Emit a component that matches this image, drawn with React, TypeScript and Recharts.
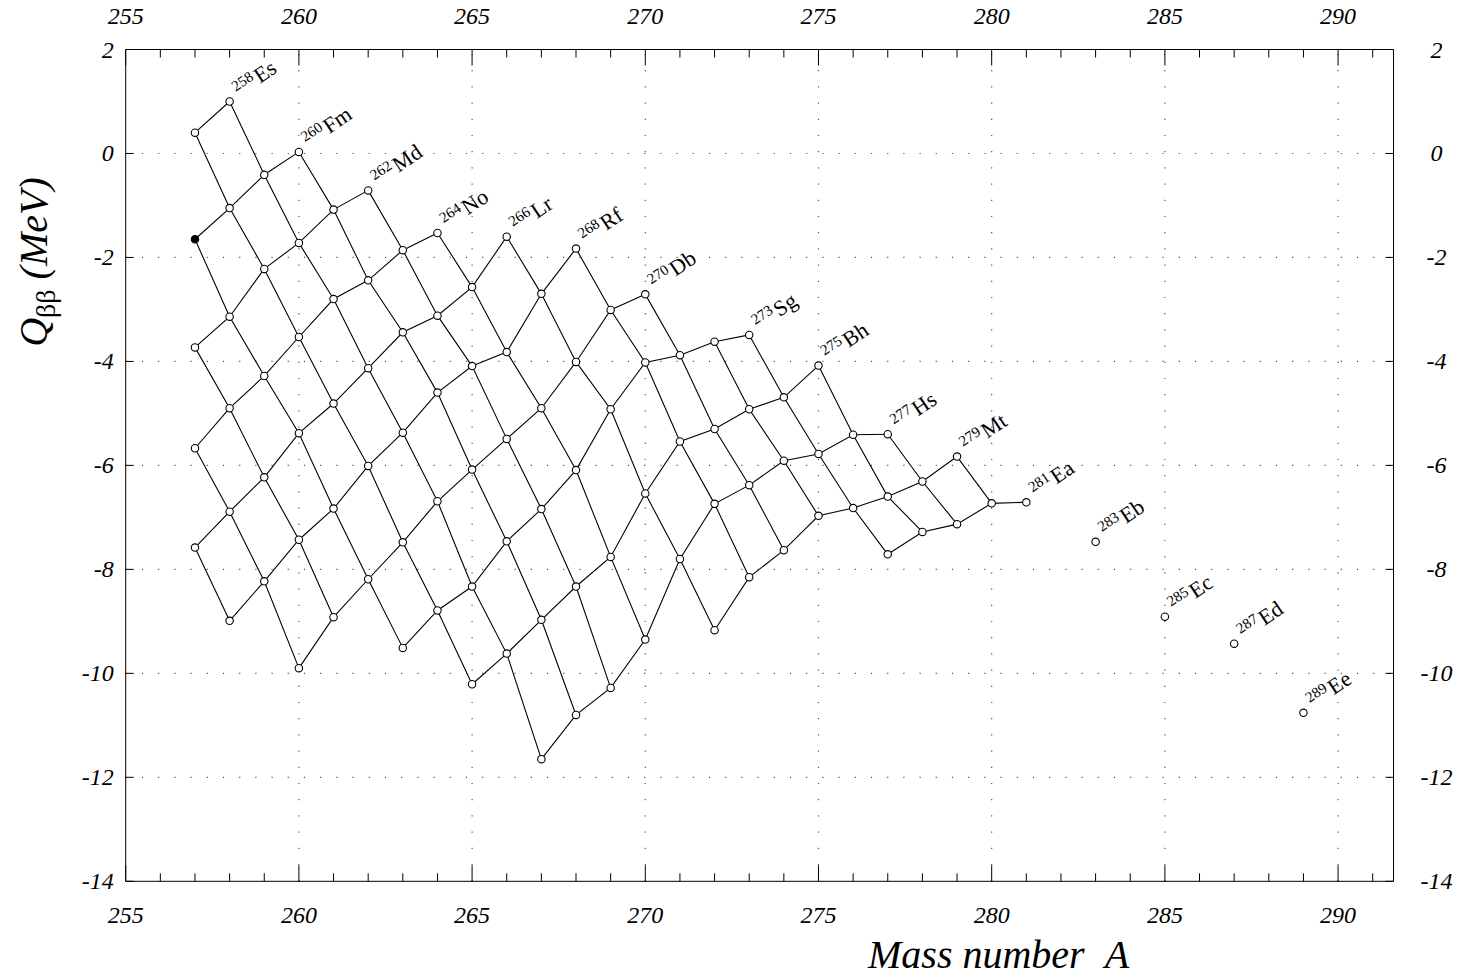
import React from 'react';
import { ComposedChart, Scatter, XAxis, YAxis, ReferenceLine } from 'recharts';

// ---- data ----
const elementSymbols = ['Es', 'Fm', 'Md', 'No', 'Lr', 'Rf', 'Db', 'Sg', 'Bh', 'Hs', 'Mt', 'Ea', 'Eb', 'Ec', 'Ed', 'Ee'];
const protonNumbers = [99, 100, 101, 102, 103, 104, 105, 106, 107, 108, 109, 110, 111, 112, 113, 114];
const firstMassNumbers = [257, 257, 257, 257, 257, 258, 260, 263, 265, 267, 272, 277, 283, 285, 287, 289];

const qEs = [0.40, 1.00];
const qFm = [-1.65, -1.05, -0.41, 0.03];
const qMd = [-3.73, -3.14, -2.22, -1.72, -1.08, -0.71];
const qNo = [-5.67, -4.90, -4.28, -3.53, -2.80, -2.44, -1.86, -1.53];
const qLr = [-7.58, -6.89, -6.23, -5.38, -4.81, -4.13, -3.44, -3.12, -2.57, -1.60];
const qRf = [-8.99, -8.23, -7.43, -6.83, -6.01, -5.37, -4.60, -4.09, -3.82, -2.70, -1.83];
const qDb = [-9.90, -8.92, -8.19, -7.48, -6.69, -6.08, -5.49, -4.90, -4.01, -3.01, -2.71];
const qSg = [-9.51, -8.79, -8.33, -7.46, -6.84, -6.09, -4.92, -4.02, -3.88, -3.62, -3.49];
const qBh = [-10.21, -9.62, -8.97, -8.33, -7.76, -6.54, -5.54, -5.30, -4.92, -4.69, -4.08];
const qHs = [-11.65, -10.80, -10.28, -9.35, -7.80, -6.74, -6.38, -5.91, -5.78, -5.41, -5.40];
const qMt = [-9.17, -8.15, -7.63, -6.97, -6.82, -6.60, -6.31, -5.83];
const qEa = [-7.71, -7.28, -7.13, -6.73, -6.71];
const qEb = [-7.47];
const qEc = [-8.91];
const qEd = [-9.43];
const qEe = [-10.76];

const qByElement = [qEs, qFm, qMd, qNo, qLr, qRf, qDb, qSg, qBh, qHs, qMt, qEa, qEb, qEc, qEd, qEe];

// nuclei whose value is drawn as a filled dot
const filledNuclei = [{ symbol: 'Fm', A: 257 }];

const xDomain = [255, 291.6];
const yDomain = [-14, 2];
const xGridValues = [260, 265, 270, 275, 280, 285, 290];
const xTickValues = [255, 256, 257, 258, 259, 260, 261, 262, 263, 264, 265, 266, 267, 268, 269, 270, 271, 272, 273, 274, 275, 276, 277, 278, 279, 280, 281, 282, 283, 284, 285, 286, 287, 288, 289, 290, 291];
const yTickValues = [-14, -12, -10, -8, -6, -4, -2, 0, 2];
const yGridValues = [-12, -10, -8, -6, -4, -2, 0];

// ---- derived structures ----
type Node = { A: number; Q: number; Z: number; N: number; symbol: string; filled: boolean };

const isotopeChains: Node[][] = elementSymbols.map((sym, i) =>
  qByElement[i].map((q, j) => {
    const A = firstMassNumbers[i] + j;
    const Z = protonNumbers[i];
    return {
      A,
      Q: q,
      Z,
      N: A - Z,
      symbol: sym,
      filled: filledNuclei.some((f) => f.symbol === sym && f.A === A),
    };
  })
);

const allNodes: Node[] = isotopeChains.flat();

const isotoneChains: Node[][] = (() => {
  const byN = new Map<number, Node[]>();
  allNodes.forEach((n) => {
    if (!byN.has(n.N)) byN.set(n.N, []);
    byN.get(n.N)!.push(n);
  });
  const chains: Node[][] = [];
  byN.forEach((list) => {
    const sorted = [...list].sort((a, b) => a.Z - b.Z);
    let cur: Node[] = [];
    sorted.forEach((n) => {
      if (cur.length && n.Z !== cur[cur.length - 1].Z + 1) {
        if (cur.length > 1) chains.push(cur);
        cur = [];
      }
      cur.push(n);
    });
    if (cur.length > 1) chains.push(cur);
  });
  return chains;
})();

const labelNodes: Node[] = isotopeChains.map((c) => c[c.length - 1]);

// ---- rendering helpers ----
const W = 1463;
const H = 977;
const serif = "'Liberation Serif', 'Times New Roman', Times, serif";

const NoShape = () => <g />;

const Marker = (props: any) => {
  const { cx, cy, payload } = props;
  return (
    <circle cx={cx} cy={cy} r={3.7} fill={payload.filled ? '#000' : '#fff'} stroke="#000" strokeWidth={1.1} />
  );
};

const NucleusLabel = (props: any) => {
  const { cx, cy, payload } = props;
  const ax = cx + 10;
  const ay = cy - 4;
  return (
    <text x={ax} y={ay} transform={`rotate(-34, ${ax}, ${ay})`} fontFamily={serif} fill="#000">
      <tspan fontSize={15} dy={-7}>{payload.A}</tspan>
      <tspan fontSize={22} dx={2} dy={7}>{payload.symbol}</tspan>
    </text>
  );
};

const tickFont = { fontFamily: serif, fontStyle: 'italic', fontSize: 24, fill: '#000' } as const;

const BottomTick = (props: any) => {
  const { x, y, payload } = props;
  const v = payload.value;
  const major = v % 5 === 0;
  return (
    <g>
      <line x1={x} x2={x} y1={y} y2={y - (major ? 16 : 8)} stroke="#000" strokeWidth={1} />
      {major && (
        <text x={x} y={y + 42} textAnchor="middle" {...tickFont}>
          {v}
        </text>
      )}
    </g>
  );
};

const TopTick = (props: any) => {
  const { x, y, payload } = props;
  const v = payload.value;
  const major = v % 5 === 0;
  return (
    <g>
      <line x1={x} x2={x} y1={y} y2={y + (major ? 16 : 8)} stroke="#000" strokeWidth={1} />
      {major && (
        <text x={x} y={y - 26} textAnchor="middle" {...tickFont}>
          {v}
        </text>
      )}
    </g>
  );
};

const LeftTick = (props: any) => {
  const { x, y, payload } = props;
  return (
    <g>
      <line x1={x} x2={x + 8} y1={y} y2={y} stroke="#000" strokeWidth={1} />
      <text x={x - 12} y={y + 8} textAnchor="end" {...tickFont}>
        {payload.value}
      </text>
    </g>
  );
};

const RightTick = (props: any) => {
  const { x, y, payload } = props;
  return (
    <g>
      <line x1={x} x2={x - 8} y1={y} y2={y} stroke="#000" strokeWidth={1} />
      <text x={x + 43} y={y + 8} textAnchor="middle" {...tickFont}>
        {payload.value}
      </text>
    </g>
  );
};

const XTitle = () => (
  <text x={868} y={968} fontFamily={serif} fontStyle="italic" fontSize={40} fill="#000">
    <tspan>Mass number</tspan>
    <tspan dx={20}>A</tspan>
  </text>
);

const YTitle = () => (
  <text x={47} y={262} transform="rotate(-90, 47, 262)" textAnchor="middle" fontFamily={serif} fontSize={40} fill="#000">
    <tspan fontStyle="italic">Q</tspan>
    <tspan fontSize={28} dy={8}>ββ</tspan>
    <tspan fontStyle="italic" dy={-8} dx={10}>(MeV)</tspan>
  </text>
);

const gridStyle = { stroke: '#555', strokeWidth: 1.2, strokeDasharray: '1.2 15' };

export default function App() {
  return (
    <div style={{ position: 'absolute', left: 0, top: 0, width: W, height: H, background: '#fff' }}>
      <ComposedChart width={W} height={H} margin={{ top: 48.5, right: 68.5, bottom: 94.7, left: 124.7 }}>
        <XAxis
          xAxisId="b"
          orientation="bottom"
          type="number"
          dataKey="A"
          domain={xDomain}
          allowDataOverflow
          ticks={xTickValues}
          interval={0}
          height={1}
          tickSize={0}
          tickMargin={0}
          tickLine={false}
          axisLine={{ stroke: '#000', strokeWidth: 1 }}
          tick={BottomTick}
          label={{ content: XTitle }}
        />
        <XAxis
          xAxisId="t"
          orientation="top"
          type="number"
          dataKey="A"
          domain={xDomain}
          allowDataOverflow
          ticks={xTickValues}
          interval={0}
          height={1}
          tickSize={0}
          tickMargin={0}
          tickLine={false}
          axisLine={{ stroke: '#000', strokeWidth: 1 }}
          tick={TopTick}
        />
        <YAxis
          yAxisId="l"
          orientation="left"
          type="number"
          dataKey="Q"
          domain={yDomain}
          allowDataOverflow
          ticks={yTickValues}
          interval={0}
          width={1}
          tickSize={0}
          tickMargin={0}
          tickLine={false}
          axisLine={{ stroke: '#000', strokeWidth: 1 }}
          tick={LeftTick}
          label={{ content: YTitle }}
        />
        <YAxis
          yAxisId="r"
          orientation="right"
          type="number"
          dataKey="Q"
          domain={yDomain}
          allowDataOverflow
          ticks={yTickValues}
          interval={0}
          width={1}
          tickSize={0}
          tickMargin={0}
          tickLine={false}
          axisLine={{ stroke: '#000', strokeWidth: 1 }}
          tick={RightTick}
        />

        {xGridValues.map((v) => (
          <ReferenceLine key={`gx${v}`} x={v} xAxisId="b" yAxisId="l" {...gridStyle} />
        ))}
        {yGridValues.map((v) => (
          <ReferenceLine key={`gy${v}`} y={v} xAxisId="b" yAxisId="l" {...gridStyle} />
        ))}

        <Scatter xAxisId="t" yAxisId="r" data={allNodes} shape={NoShape} isAnimationActive={false} />

        {isotoneChains.map((chain, i) => (
          <Scatter
            key={`n${i}`}
            xAxisId="b"
            yAxisId="l"
            data={chain}
            line={{ stroke: '#000', strokeWidth: 1.1 }}
            shape={NoShape}
            isAnimationActive={false}
          />
        ))}
        {isotopeChains
          .filter((c) => c.length > 1)
          .map((chain, i) => (
            <Scatter
              key={`z${i}`}
              xAxisId="b"
              yAxisId="l"
              data={chain}
              line={{ stroke: '#000', strokeWidth: 1.1 }}
              shape={NoShape}
              isAnimationActive={false}
            />
          ))}
        <Scatter xAxisId="b" yAxisId="l" data={allNodes} shape={Marker} isAnimationActive={false} />
        <Scatter xAxisId="b" yAxisId="l" data={labelNodes} shape={NucleusLabel} isAnimationActive={false} />
      </ComposedChart>
    </div>
  );
}
